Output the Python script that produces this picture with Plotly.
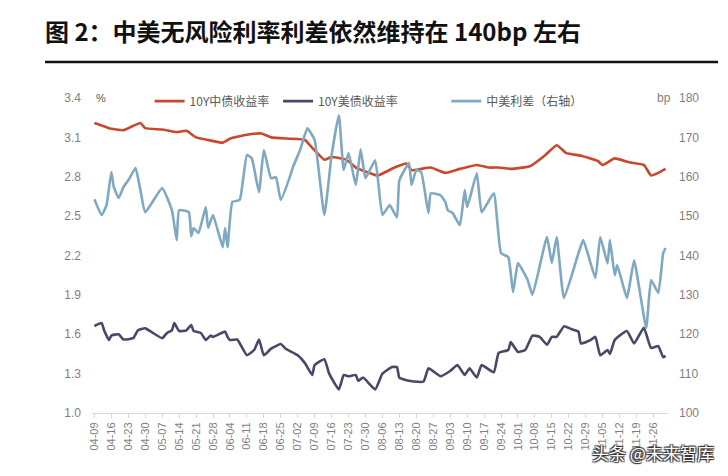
import plotly.graph_objects as go
import pandas as pd

# ---------------- data ----------------
cn_dates = ["2021-04-09","2021-04-12","2021-04-15","2021-04-21","2021-04-28","2021-04-30",
            "2021-05-07","2021-05-13","2021-05-17","2021-05-21","2021-05-26","2021-06-01",
            "2021-06-04","2021-06-11","2021-06-17","2021-06-21","2021-06-29","2021-07-05",
            "2021-07-08","2021-07-13","2021-07-16","2021-07-22","2021-07-26","2021-07-30",
            "2021-08-04","2021-08-11","2021-08-16","2021-08-18","2021-08-22","2021-08-26",
            "2021-09-01","2021-09-07","2021-09-14","2021-09-19","2021-09-23","2021-09-28",
            "2021-10-06","2021-10-12","2021-10-17","2021-10-21","2021-10-27","2021-11-03",
            "2021-11-05","2021-11-10","2021-11-16","2021-11-22","2021-11-25","2021-11-28",
            "2021-12-01"]
cn_10y = [3.21,3.19,3.17,3.155,3.21,3.17,
          3.16,3.14,3.15,3.10,3.08,3.06,
          3.09,3.12,3.13,3.10,3.09,3.08,
          3.02,2.93,2.95,2.93,2.87,2.84,
          2.81,2.87,2.90,2.85,2.86,2.87,
          2.83,2.86,2.89,2.87,2.87,2.86,
          2.88,2.96,3.04,2.98,2.96,2.92,
          2.89,2.94,2.91,2.89,2.81,2.83,
          2.86]

us_dates = ["2021-04-09","2021-04-12","2021-04-13","2021-04-15","2021-04-16","2021-04-19",
            "2021-04-21","2021-04-25","2021-04-27","2021-04-30","2021-05-07","2021-05-09",
            "2021-05-11","2021-05-12","2021-05-14","2021-05-17","2021-05-19","2021-05-20",
            "2021-05-23","2021-05-25","2021-05-27","2021-05-28","2021-06-02","2021-06-03",
            "2021-06-04","2021-06-07","2021-06-11","2021-06-14","2021-06-16","2021-06-18",
            "2021-06-21","2021-06-25","2021-06-27","2021-07-02","2021-07-05","2021-07-08",
            "2021-07-09","2021-07-13","2021-07-15","2021-07-19","2021-07-21","2021-07-23",
            "2021-07-26","2021-07-27","2021-07-29","2021-08-03","2021-08-06","2021-08-10",
            "2021-08-12","2021-08-13","2021-08-16","2021-08-19","2021-08-23","2021-08-25",
            "2021-08-30","2021-09-03","2021-09-06","2021-09-09","2021-09-11","2021-09-14",
            "2021-09-16","2021-09-21","2021-09-23","2021-09-27","2021-09-28","2021-10-01",
            "2021-10-04","2021-10-07","2021-10-10","2021-10-13","2021-10-15","2021-10-17",
            "2021-10-20","2021-10-23","2021-10-26","2021-10-27","2021-10-31","2021-11-02",
            "2021-11-04","2021-11-07","2021-11-08","2021-11-10","2021-11-15","2021-11-18",
            "2021-11-22","2021-11-25","2021-11-28","2021-11-30","2021-12-01"]
us_10y = [1.663,1.685,1.63,1.556,1.59,1.60,
          1.56,1.57,1.63,1.645,1.57,1.61,
          1.63,1.685,1.625,1.63,1.67,1.625,
          1.61,1.556,1.59,1.58,1.62,1.58,
          1.556,1.56,1.44,1.48,1.56,1.44,
          1.49,1.525,1.49,1.44,1.38,1.29,
          1.365,1.41,1.30,1.18,1.29,1.28,
          1.29,1.245,1.27,1.18,1.30,1.35,
          1.35,1.27,1.25,1.24,1.24,1.34,
          1.28,1.32,1.365,1.29,1.34,1.27,
          1.365,1.31,1.457,1.48,1.54,1.465,
          1.48,1.59,1.58,1.52,1.58,1.58,
          1.66,1.64,1.62,1.53,1.556,1.58,
          1.44,1.48,1.45,1.556,1.625,1.53,
          1.65,1.495,1.51,1.425,1.435]

sp_dates = ["2021-04-09","2021-04-12","2021-04-14","2021-04-16","2021-04-17","2021-04-19",
            "2021-04-21","2021-04-23","2021-04-26","2021-04-28","2021-04-30","2021-05-07",
            "2021-05-11","2021-05-13","2021-05-14","2021-05-18","2021-05-19","2021-05-20",
            "2021-05-22","2021-05-25","2021-05-26","2021-05-28","2021-06-01","2021-06-02",
            "2021-06-03","2021-06-05","2021-06-08","2021-06-11","2021-06-13","2021-06-16",
            "2021-06-18","2021-06-21","2021-06-23","2021-06-25","2021-06-29","2021-06-30",
            "2021-07-03","2021-07-06","2021-07-09","2021-07-13","2021-07-16","2021-07-19",
            "2021-07-21","2021-07-23","2021-07-26","2021-07-28","2021-07-30","2021-08-03",
            "2021-08-06","2021-08-09","2021-08-12","2021-08-13","2021-08-17","2021-08-18",
            "2021-08-20","2021-08-22","2021-08-25","2021-08-26","2021-08-30","2021-09-01",
            "2021-09-02","2021-09-04","2021-09-07","2021-09-09","2021-09-10","2021-09-14",
            "2021-09-16","2021-09-21","2021-09-24","2021-09-27","2021-09-29","2021-10-01",
            "2021-10-05","2021-10-07","2021-10-13","2021-10-15","2021-10-17","2021-10-20",
            "2021-10-26","2021-10-28","2021-11-02","2021-11-04","2021-11-07","2021-11-08",
            "2021-11-10","2021-11-11","2021-11-15","2021-11-16","2021-11-18","2021-11-23",
            "2021-11-25","2021-11-28","2021-11-30","2021-12-01"]
spread_bp = [154.3,150.3,152.8,161.2,157.4,154.6,
             157.4,159.1,162.2,156.6,151.0,157.1,
             151.5,143.9,151.5,151.0,144.9,147.0,
             145.7,152.3,147.0,150.3,142.1,147.0,
             142.1,153.6,154.1,165.5,164.7,156.1,
             166.8,159.6,159.9,154.1,160.4,162.4,
             166.8,172.3,169.3,150.3,165.5,175.6,
             161.7,166.0,157.9,167.0,159.6,164.2,
             150.3,152.8,149.7,159.1,163.5,157.9,
             161.7,161.2,150.8,155.8,155.3,153.6,
             151.5,150.8,147.7,156.6,152.3,160.9,
             151.0,155.8,140.6,139.6,130.7,138.1,
             133.8,130.0,144.7,138.1,144.7,129.2,
             140.6,143.9,134.3,144.7,138.0,143.9,
             135.0,137.6,129.2,132.0,138.8,121.6,
             133.8,130.5,140.6,141.9]

tick_dates = pd.date_range("2021-04-09", "2021-11-26", freq="7D")
left_ticks = [1.0, 1.3, 1.6, 1.9, 2.2, 2.5, 2.8, 3.1, 3.4]
right_ticks = [100, 110, 120, 130, 140, 150, 160, 170, 180]

names = ["10Y中债收益率", "10Y美债收益率", "中美利差（右轴）"]
colors = ["#C9472B", "#4A4868", "#7EA9C0"]

# ---------------- figure ----------------
# the page body adds an 8px offset, so the figure is 720x468 and placed at (8, 8)
W, H = 720, 468
FONT = "Liberation Sans, Arial, Noto Sans CJK SC, sans-serif"
CJK = "Noto Sans CJK SC, sans-serif"

fig = go.Figure()
line_kw = dict(shape="spline", smoothing=0.4, width=2.6)
fig.add_trace(go.Scatter(x=sp_dates, y=spread_bp, name=names[2], mode="lines",
                         line=dict(color=colors[2], **line_kw), yaxis="y2", legend="legend3"))
fig.add_trace(go.Scatter(x=cn_dates, y=cn_10y, name=names[0], mode="lines",
                         line=dict(color=colors[0], **line_kw), legend="legend"))
fig.add_trace(go.Scatter(x=us_dates, y=us_10y, name=names[1], mode="lines",
                         line=dict(color=colors[1], **line_kw), legend="legend2"))

leg = dict(orientation="h", yanchor="middle", y=0.99, bgcolor="rgba(0,0,0,0)",
           font=dict(family=CJK, size=12, color="#595959"))
fig.update_layout(
    width=W, height=H,
    margin=dict(l=84, r=60, t=90, b=63),
    paper_bgcolor="white", plot_bgcolor="white",
    showlegend=True,
    legend=dict(leg, x=0.1, xanchor="left"),
    legend2=dict(leg, x=0.323, xanchor="left"),
    legend3=dict(leg, x=0.615, xanchor="left"),
    title=dict(text="<b>图 2：中美无风险利率利差依然维持在 140bp 左右</b>",
               font=dict(family=CJK, size=24, color="#111111"),
               xref="container", yref="container", x=37/W, xanchor="left",
               y=1-25/H, yanchor="middle"),
    xaxis=dict(type="date", range=["2021-04-08", "2021-12-02"],
               tickvals=tick_dates, tickformat="%m-%d", tickangle=-90,
               tickfont=dict(family=FONT, size=11, color="#7F7F7F"),
               showgrid=False, zeroline=False, showline=True, linecolor="#D9D9D9",
               linewidth=1, ticks="outside", ticklen=4, tickcolor="#D9D9D9"),
    yaxis=dict(range=[1.0, 3.4], tickvals=left_ticks, tickformat=".1f",
               tickfont=dict(family=FONT, size=12, color="#7F7F7F"),
               showgrid=False, zeroline=False, showline=False, ticks="", ticklabelstandoff=10),
    yaxis2=dict(range=[100, 180], tickvals=right_ticks, overlaying="y", side="right",
                tickfont=dict(family=FONT, size=12, color="#7F7F7F"),
                showgrid=False, zeroline=False, showline=False, ticks="", ticklabelstandoff=10),
)

fig.add_shape(type="line", xref="paper", yref="paper", x0=-0.0816, x1=1.0868,
              y0=1.114, y1=1.114, line=dict(color="#111111", width=2.5))
fig.add_annotation(text="%", xref="paper", yref="paper", x=(101-92)/576, y=1.0,
                   xanchor="center", yanchor="middle", showarrow=False,
                   font=dict(family=FONT, size=11, color="#595959"))
fig.add_annotation(text="bp", xref="paper", yref="paper", x=(664-92)/576, y=1.0,
                   xanchor="center", yanchor="middle", showarrow=False,
                   font=dict(family=FONT, size=12, color="#7F7F7F"))
fig.add_annotation(text="头条 @未来智库", xref="paper", yref="paper",
                   x=(716-92)/576, y=-(452-413)/315, xanchor="right", yanchor="middle",
                   showarrow=False,
                   font=dict(family=CJK, size=17, color="white",
                             shadow="1px 1px 1px #333, -1px -1px 1px #333, 1px -1px 1px #333, -1px 1px 1px #333"))

fig.write_html("out.html")
